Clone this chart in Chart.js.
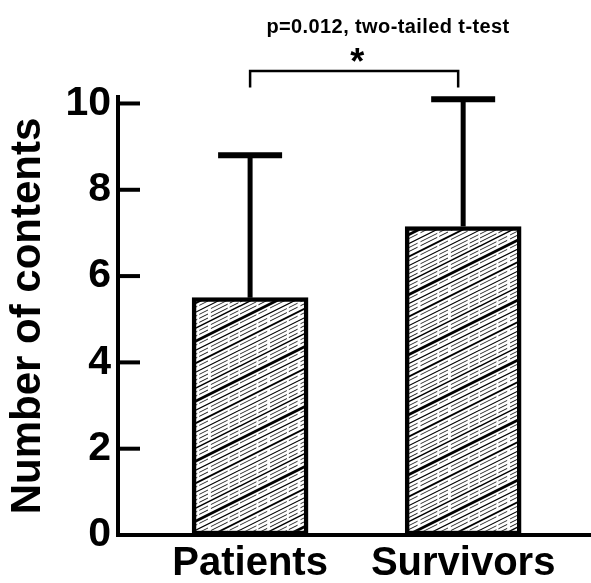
<!DOCTYPE html>
<html>
<head>
<meta charset="utf-8">
<script src="https://cdn.jsdelivr.net/npm/chart.js@4.4.1/dist/chart.umd.min.js"></script>
<style>
  html, body { margin: 0; padding: 0; background: #fff; }
  #wrap { width: 591px; height: 583px; }
</style>
</head>
<body>
<div id="wrap"><canvas id="chart"></canvas></div>
<script>
// values
const categories = ["Patients", "Survivors"];
const means = [5.5, 7.15];
const sdUpper = [3.3, 2.95];
const yTicks = [0, 2, 4, 6, 8, 10];
const pValueNote = "p=0.012, two-tailed t-test";
const sigMark = "*";

const FONT = "'Liberation Sans', Arial, Helvetica, sans-serif";

// sketchy diagonal hatch used to fill the bars
function hatch() {
  const c = document.createElement("canvas");
  c.width = 120;
  c.height = 60;
  const g = c.getContext("2d");
  g.fillStyle = "#fff";
  g.fillRect(0, 0, 120, 60);
  g.strokeStyle = "#000";
  g.lineCap = "round";
  const lines = [[2, 0.9, 1], [6, 1.4, 0], [10, 0.8, 1], [14, 0.9, 1], [19, 2.8, 0], [23, 0.8, 1],
                 [28, 1.2, 0], [32, 0.8, 1], [36, 0.9, 1], [41, 1.9, 0], [45, 0.8, 1], [50, 1.1, 0],
                 [54, 0.8, 1], [58, 0.9, 1]];
  for (const [k, w, dashed] of lines) {
    g.lineWidth = w;
    g.setLineDash(dashed ? [18, 3, 9, 4] : []);
    for (const off of [-60, 0, 60]) {
      g.beginPath();
      g.moveTo(0, k + off);
      g.lineTo(120, k + off - 60);
      g.stroke();
    }
  }
  return g.createPattern(c, "repeat");
}

const extras = {
  id: "extras",
  afterDatasetsDraw(chart) {
    const { ctx, scales: { x, y } } = chart;
    ctx.save();
    ctx.strokeStyle = "#000";
    ctx.fillStyle = "#000";

    // tick marks point into the plot
    ctx.lineWidth = 4;
    yTicks.forEach(t => {
      if (t === 0) return;
      const py = y.getPixelForValue(t);
      ctx.beginPath();
      ctx.moveTo(x.left, py);
      ctx.lineTo(x.left + 22, py);
      ctx.stroke();
    });

    // upper error bars
    means.forEach((m, i) => {
      const px = x.getPixelForValue(i + 1);
      const yb = y.getPixelForValue(m);
      const yt = y.getPixelForValue(m + sdUpper[i]);
      ctx.lineWidth = 5;
      ctx.beginPath();
      ctx.moveTo(px, yb);
      ctx.lineTo(px, yt);
      ctx.stroke();
      ctx.lineWidth = 6;
      ctx.beginPath();
      ctx.moveTo(px - 32, yt);
      ctx.lineTo(px + 32, yt);
      ctx.stroke();
    });

    // significance bracket
    const x1 = x.getPixelForValue(1);
    const x2 = x.getPixelForValue(2) - 5;
    const by = y.getPixelForValue(10.75);
    const legEnd = y.getPixelForValue(10.37);
    ctx.lineWidth = 2.5;
    ctx.beginPath();
    ctx.moveTo(x1, legEnd);
    ctx.lineTo(x1, by);
    ctx.lineTo(x2, by);
    ctx.lineTo(x2, legEnd);
    ctx.stroke();

    ctx.textAlign = "center";
    ctx.textBaseline = "alphabetic";
    ctx.font = "bold 36px " + FONT;
    ctx.fillText(sigMark, (x1 + x2) / 2 + 3, by + 3);

    ctx.font = "bold 20px " + FONT;
    ctx.letterSpacing = "0.4px";
    ctx.fillText(pValueNote, 388, by - 38);
    ctx.restore();
  },
};

new Chart(document.getElementById("chart"), {
  type: "bar",
  data: {
    datasets: [
      {
        data: means.map((v, i) => ({ x: i + 1, y: v })),
        backgroundColor: hatch(),
        borderColor: "#000",
        borderWidth: 4.5,
        borderSkipped: false,
        barThickness: 116,
      },
    ],
  },
  options: {
    responsive: true,
    maintainAspectRatio: false,
    animation: false,
    layout: { padding: { top: 97, left: 0, right: 0, bottom: 0 } },
    plugins: {
      legend: { display: false },
      tooltip: { enabled: false },
    },
    scales: {
      x: {
        type: "linear",
        offset: false,
        min: 0.38,
        max: 2.6,
        grid: { display: false, drawTicks: false, offset: false },
        border: { color: "#000", width: 4 },
        afterBuildTicks: s => { s.ticks = categories.map((_, i) => ({ value: i + 1 })); },
        afterFit: s => { s.height = 48; },
        ticks: {
          color: "#000",
          padding: 5,
          maxRotation: 0,
          autoSkip: false,
          font: { family: FONT, size: 40, weight: "bold" },
          callback: v => categories[v - 1],
        },
      },
      y: {
        min: 0,
        max: 10.15,
        afterBuildTicks: s => { s.ticks = yTicks.map(v => ({ value: v })); },
        afterFit: s => { s.width = 118; },
        grid: { display: false, drawTicks: false },
        border: { color: "#000", width: 4 },
        ticks: {
          color: "#000",
          padding: 7,
          font: { family: FONT, size: 41, weight: "bold" },
        },
        title: {
          display: true,
          text: "Number of contents",
          color: "#000",
          font: { family: FONT, size: 42, weight: "bold" },
          padding: { top: 3, bottom: 0 },
        },
      },
    },
  },
  plugins: [extras],
});
</script>
</body>
</html>
